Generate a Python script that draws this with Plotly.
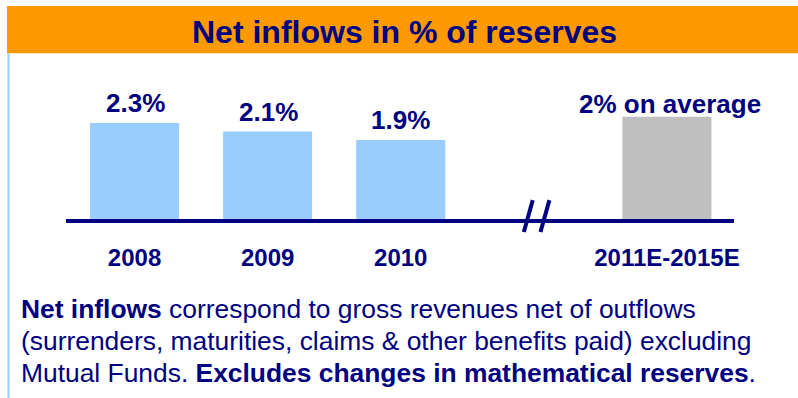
import plotly.graph_objects as go

# ---- data ----
categories = ["2008", "2009", "2010", "2011E-2015E"]
positions = [0, 1, 2, 4]          # slot 3 holds the axis break
values = [2.3, 2.1, 1.9, 2.45]
value_labels = ["2.3%", "2.1%", "1.9%", "2% on average"]
bar_colors = ["#99CCFF", "#99CCFF", "#99CCFF", "#C0C0C0"]
break_pos = 3
title_text = "Net inflows in % of reserves"
footnote_lines = [
    "<b>Net inflows</b> correspond to gross revenues net of outflows",
    "(surrenders, maturities, claims & other benefits paid) excluding",
    "Mutual Funds. <b>Excludes changes in mathematical reserves</b>.",
]

W, H = 798, 398
NAVY = "#000080"
FONT = "Arial, Liberation Sans, sans-serif"


def py(p):
    """pixel row -> paper y"""
    return 1 - p / H


def px(p):
    return p / W


fig = go.Figure()
fig.add_trace(go.Bar(
    x=positions, y=values, width=0.669,
    marker=dict(color=bar_colors, line=dict(width=0)),
    hoverinfo="skip",
))

# value labels
shifts = [20, 20, 20, 13]
xshifts = [1, 1, 0, 3]
for xp, v, lab, s, xs in zip(positions, values, value_labels, shifts, xshifts):
    fig.add_annotation(x=xp, y=v, text=f"<b>{lab}</b>", showarrow=False,
                       xanchor="center", yanchor="middle", yshift=s, xshift=xs,
                       font=dict(family=FONT, size=26, color=NAVY))

# orange header band
fig.add_shape(type="rect", xref="paper", yref="paper",
              x0=px(7), x1=1, y0=py(53.3), y1=py(6),
              fillcolor="#FF9900", line=dict(width=0), layer="below")
# left light-blue border
fig.add_shape(type="line", xref="paper", yref="paper",
              x0=px(8.5), x1=px(8.5), y0=0, y1=py(53.3),
              line=dict(color="#99CCFF", width=2))
fig.add_annotation(xref="paper", yref="paper", x=px(404.5), y=py(31.5),
                   text=f"<b>{title_text}</b>", showarrow=False,
                   xanchor="center", yanchor="middle",
                   font=dict(family=FONT, size=32, color=NAVY))

# axis break marks
for off in (-0.04, 0.085):
    fig.add_shape(type="line", xref="x", yref="y",
                  x0=break_pos + off - 0.035, x1=break_pos + off + 0.032,
                  y0=-0.26, y1=0.49,
                  line=dict(color=NAVY, width=4))

# footnote
for i, line in enumerate(footnote_lines):
    fig.add_annotation(xref="paper", yref="paper", x=px(18.5), y=py(309 + 32 * i),
                       text=line, showarrow=False, xanchor="left", yanchor="middle",
                       font=dict(family=FONT, size=26.4, color=NAVY))

fig.update_layout(
    template="none",
    width=W, height=H, autosize=False,
    margin=dict(l=0, r=0, t=0, b=0, pad=0),
    paper_bgcolor="white", plot_bgcolor="rgba(0,0,0,0)",
    showlegend=False,
    xaxis=dict(domain=[px(66), px(734)], range=[-0.515, 4.504],
               anchor="free", position=py(221), automargin=False,
               showline=True, linecolor=NAVY, linewidth=4,
               showgrid=False, zeroline=False, ticks="",
               tickmode="array", tickvals=positions, ticktext=categories,
               tickfont=dict(family=FONT, size=24, color=NAVY, weight="bold"),
               ticklabelstandoff=14, fixedrange=True),
    yaxis=dict(domain=[0, 1], range=[-4.155, 5.188], visible=False,
               automargin=False, fixedrange=True),
)

fig.write_html("out.html", config={"displayModeBar": False, "responsive": False},
               default_width="798px", default_height="398px")
